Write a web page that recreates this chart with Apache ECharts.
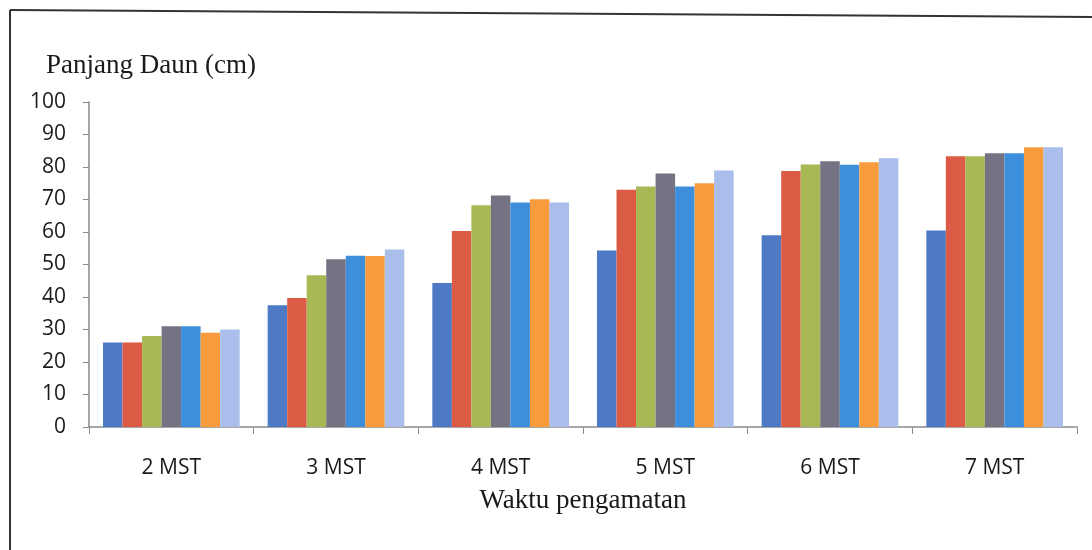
<!DOCTYPE html>
<html>
<head>
<meta charset="utf-8">
<script src="https://cdn.jsdelivr.net/npm/echarts@6/dist/echarts.min.js"></script>
<style>
  html, body { margin: 0; padding: 0; background: #fff; }
  #chart { width: 1092px; height: 550px; }
</style>
</head>
<body>
<div id="chart"></div>
<script>
// Observation weeks (minggu setelah tanam)
const categories = ['2 MST', '3 MST', '4 MST', '5 MST', '6 MST', '7 MST'];

// Leaf length (cm) for the seven treatments, one array per treatment
const seriesA = [26, 37.5, 44.3, 54.3, 59, 60.5];
const seriesB = [26, 39.7, 60.3, 73, 78.8, 83.3];
const seriesC = [28, 46.7, 68.2, 74, 80.8, 83.3];
const seriesD = [31, 51.6, 71.2, 78, 81.8, 84.2];
const seriesE = [31, 52.7, 69.1, 74, 80.7, 84.2];
const seriesF = [29, 52.6, 70.1, 75, 81.5, 86.1];
const seriesG = [30, 54.6, 69.1, 78.9, 82.7, 86.1];

const yTicks = { min: 0, max: 100, interval: 10 };

const colors = ['#4E79C4', '#DC5B45', '#A8B855', '#757283', '#3D8FDB', '#F79B3C', '#A9BEEB'];
const allSeries = [seriesA, seriesB, seriesC, seriesD, seriesE, seriesF, seriesG];

const serif = '"Liberation Serif", "DejaVu Serif", serif';
const sans = '"Open Sans", "Noto Sans", sans-serif';

const chart = echarts.init(document.getElementById('chart'), null, { renderer: 'canvas' });

chart.setOption({
  backgroundColor: '#ffffff',
  animation: false,
  title: {
    text: 'Panjang Daun (cm)',
    left: 46,
    top: 52,
    padding: 0,
    textStyle: {
      fontFamily: serif,
      fontWeight: 'normal',
      fontSize: 27,
      color: '#1a1a1a'
    }
  },
  graphic: [
    // outer frame of the figure
    { type: 'line', shape: { x1: 10, y1: 10, x2: 1092, y2: 17 }, style: { stroke: '#333', lineWidth: 2 } },
    { type: 'line', shape: { x1: 10, y1: 10, x2: 10, y2: 550 }, style: { stroke: '#333', lineWidth: 2 } }
  ],
  grid: { left: 89, right: 15, top: 102, bottom: 123, containLabel: false },
  xAxis: {
    type: 'category',
    data: categories,
    name: 'Waktu pengamatan',
    nameLocation: 'middle',
    nameGap: 60,
    nameTextStyle: {
      fontFamily: serif,
      fontSize: 27,
      color: '#1a1a1a'
    },
    axisLine: { lineStyle: { color: '#8a8a8a', width: 1.5 } },
    axisTick: { show: true, length: 7, alignWithLabel: false, lineStyle: { color: '#8a8a8a' } },
    axisLabel: {
      margin: 31,
      fontFamily: sans,
      fontSize: 21,
      color: '#1a1a1a'
    }
  },
  yAxis: {
    type: 'value',
    min: yTicks.min,
    max: yTicks.max,
    interval: yTicks.interval,
    axisLine: { show: true, lineStyle: { color: '#8a8a8a', width: 1.5 } },
    axisTick: { show: true, length: 6, lineStyle: { color: '#8a8a8a' } },
    splitLine: { show: false },
    axisLabel: {
      margin: 23,
      fontFamily: sans,
      fontSize: 21,
      color: '#1a1a1a'
    }
  },
  series: allSeries.map((values, i) => ({
    type: 'bar',
    name: 'P' + (i + 1),
    data: values,
    barGap: '0%',
    barCategoryGap: '17%',
    itemStyle: { color: colors[i] }
  }))
});
</script>
</body>
</html>
